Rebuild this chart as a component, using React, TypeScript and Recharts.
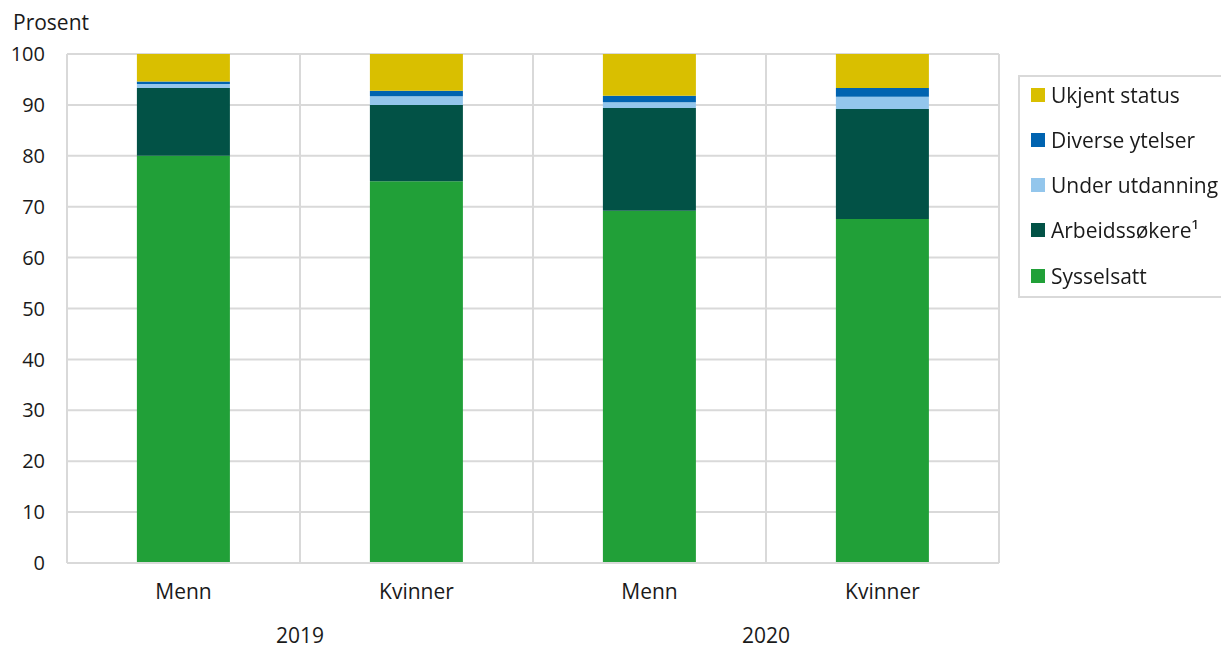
import { BarChart, Bar, XAxis, YAxis, CartesianGrid } from 'recharts'

const categories = ['Menn', 'Kvinner', 'Menn', 'Kvinner']
const years = ['2019', '2019', '2020', '2020']

const sysselsatt = [80.0, 75.0, 69.2, 67.6]
const arbeidssokere = [13.3, 15.0, 20.2, 21.6]
const underUtdanning = [0.8, 1.7, 1.1, 2.4]
const diverseYtelser = [0.5, 1.1, 1.3, 1.7]
const ukjentStatus = [5.4, 7.2, 8.2, 6.7]

const yTicks = [0, 10, 20, 30, 40, 50, 60, 70, 80, 90, 100]

const series = [
  { key: 'sysselsatt', name: 'Sysselsatt', color: '#21a038', values: sysselsatt },
  { key: 'arbeidssokere', name: 'Arbeidssøkere¹', color: '#025246', values: arbeidssokere },
  { key: 'underUtdanning', name: 'Under utdanning', color: '#93c6ec', values: underUtdanning },
  { key: 'diverseYtelser', name: 'Diverse ytelser', color: '#0063b0', values: diverseYtelser },
  { key: 'ukjentStatus', name: 'Ukjent status', color: '#d9bf00', values: ukjentStatus },
]

const data = categories.map((label, i) => {
  const row: Record<string, string | number> = { label, year: years[i] }
  series.forEach((s) => {
    row[s.key] = s.values[i]
  })
  return row
})

const W = 1221
const H = 650
const MARGIN = { top: 54, right: 222, bottom: 0, left: 0 }
const Y_WIDTH = 67
const X_HEIGHT = 87
const FONT = '"Open Sans", sans-serif'
const FS = 21
const GRID = '#d9d9d9'

const plotWidth = W - MARGIN.left - MARGIN.right - Y_WIDTH
const catWidth = plotWidth / categories.length

// eslint-disable-next-line @typescript-eslint/no-explicit-any
function CategoryTick(props: any) {
  const { x, y, payload, index } = props
  return (
    <g>
      <text x={x} y={y + 28} textAnchor="middle" fontSize={FS} fill="#1a1a1a" fontFamily={FONT}>
        {payload.value}
      </text>
      {index % 2 === 0 && (
        <text x={x + catWidth / 2} y={y + 72} textAnchor="middle" fontSize={FS} fill="#1a1a1a" fontFamily={FONT}>
          {years[index]}
        </text>
      )}
    </g>
  )
}

export default function App() {
  const legendItems = [...series].reverse()
  return (
    <div style={{ position: 'fixed', left: 0, top: 0, width: W, height: H, background: '#fff', fontFamily: FONT }}>
      <div style={{ position: 'absolute', left: 13, top: 7, fontSize: FS, lineHeight: '30px', color: '#1a1a1a' }}>Prosent</div>
      <BarChart width={W} height={H} data={data} margin={MARGIN} barCategoryGap="30%">
        <CartesianGrid
          stroke={GRID}
          strokeWidth={2}
          // eslint-disable-next-line @typescript-eslint/no-explicit-any
          verticalCoordinatesGenerator={({ offset }: any) =>
            categories.map((_, i) => offset.left + i * (offset.width / categories.length)).concat(offset.left + offset.width)
          }
        />
        <XAxis
          dataKey="label"
          height={X_HEIGHT}
          interval={0}
          tickLine={false}
          axisLine={{ stroke: GRID, strokeWidth: 2 }}
          tick={<CategoryTick />}
        />
        <YAxis
          domain={[0, 100]}
          ticks={yTicks}
          width={Y_WIDTH}
          axisLine={false}
          tickLine={false}
          tickSize={0}
          tickMargin={22}
          interval={0}
          tick={{ fill: '#1a1a1a', fontSize: 20, fontFamily: FONT }}
        />
        {series.map((s) => (
          <Bar key={s.key} dataKey={s.key} name={s.name} stackId="a" fill={s.color} isAnimationActive={false} />
        ))}
      </BarChart>
      <div
        style={{
          position: 'absolute',
          left: 1018,
          top: 75,
          width: 210,
          height: 223,
          border: `2px solid ${GRID}`,
          boxSizing: 'border-box',
        }}
      >
        <div style={{ marginTop: -5 }}>
          {legendItems.map((s) => (
            <div key={s.key} style={{ display: 'flex', alignItems: 'center', height: 45.25, paddingLeft: 11 }}>
              <span style={{ width: 14, height: 14, background: s.color, marginRight: 6, flexShrink: 0 }} />
              <span style={{ fontSize: FS, color: '#1a1a1a', whiteSpace: 'nowrap' }}>{s.name}</span>
            </div>
          ))}
        </div>
      </div>
    </div>
  )
}
